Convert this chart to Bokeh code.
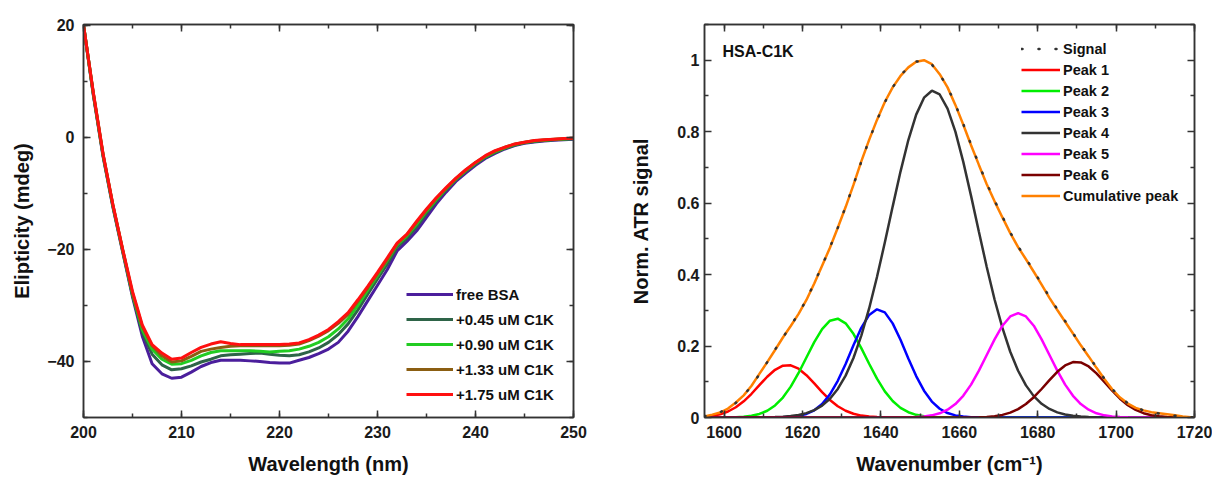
from bokeh.plotting import figure
from bokeh.models import (LinearAxis, SingleIntervalTicker, FixedTicker, Legend, LegendItem,
                          Label, Range1d, CustomLabelingPolicy)
from bokeh.layouts import row
from bokeh.embed import file_html
from bokeh.resources import INLINE

FONT = "Liberation Sans"

# ---------------- CD spectra (left panel) ----------------
wavelength = list(range(200, 251))
cd_labels = ["free BSA", "+0.45 uM C1K", "+0.90 uM C1K", "+1.33 uM C1K", "+1.75 uM C1K"]
cd_colors = ["#4B1E9C", "#2E6448", "#22CC22", "#8B5E12", "#FF1010"]

free_bsa = [20.0, 7.5, -3.5, -12.5, -20.5, -28.5, -35.5, -40.4, -42.2, -43.0,
            -42.8, -41.9, -40.9, -40.2, -39.8, -39.8, -39.8, -39.9, -40.0, -40.2,
            -40.3, -40.3, -39.8, -39.3, -38.6, -37.8, -36.6, -34.6, -32.0, -29.2,
            -26.4, -23.6, -20.3, -18.6, -16.7, -14.3, -11.9, -9.8, -7.9, -6.4,
            -5.0, -3.8, -2.9, -2.1, -1.5, -1.1, -0.85, -0.7, -0.55, -0.45, -0.35]
c1k_045 = [20.0, 7.7, -3.3, -12.3, -20.3, -28.2, -34.8, -38.7, -40.6, -41.5,
           -41.3, -40.8, -40.1, -39.6, -39.0, -38.8, -38.7, -38.6, -38.5, -38.7,
           -38.9, -39.0, -38.8, -38.3, -37.6, -36.6, -35.2, -33.3, -30.8, -28.0,
           -25.3, -22.6, -19.6, -18.0, -16.0, -13.6, -11.4, -9.4, -7.6, -6.1,
           -4.8, -3.6, -2.7, -2.0, -1.4, -1.0, -0.75, -0.6, -0.45, -0.38, -0.3]
c1k_090 = [20.0, 7.8, -3.2, -12.2, -20.2, -28.0, -34.3, -37.8, -39.6, -40.5,
           -40.4, -39.8, -39.0, -38.4, -38.1, -38.1, -38.1, -38.1, -38.2, -38.3,
           -38.2, -38.1, -37.8, -37.3, -36.6, -35.6, -34.2, -32.4, -30.0, -27.3,
           -24.7, -22.0, -19.2, -17.6, -15.5, -13.2, -11.1, -9.2, -7.5, -6.0,
           -4.6, -3.5, -2.6, -1.9, -1.3, -0.95, -0.7, -0.55, -0.42, -0.33, -0.25]
c1k_133 = [20.0, 7.9, -3.1, -12.1, -20.1, -27.8, -33.8, -37.2, -39.0, -40.1,
           -39.9, -39.1, -38.2, -37.8, -37.5, -37.3, -37.2, -37.2, -37.2, -37.2,
           -37.2, -37.1, -36.9, -36.3, -35.5, -34.5, -33.2, -31.6, -29.3, -26.9,
           -24.4, -21.8, -19.0, -17.4, -15.2, -13.0, -10.9, -9.1, -7.4, -5.9,
           -4.5, -3.4, -2.5, -1.8, -1.25, -0.9, -0.65, -0.5, -0.38, -0.28, -0.2]
c1k_175 = [20.0, 8.0, -3.0, -12.0, -20.0, -27.5, -33.5, -37.0, -38.5, -39.6,
           -39.4, -38.4, -37.5, -36.9, -36.5, -36.8, -37.0, -37.0, -37.0, -37.0,
           -37.0, -36.9, -36.7, -36.1, -35.3, -34.3, -32.9, -31.3, -29.0, -26.6,
           -24.1, -21.5, -18.9, -17.3, -15.0, -12.8, -10.8, -9.0, -7.3, -5.8,
           -4.5, -3.3, -2.4, -1.8, -1.2, -0.9, -0.6, -0.45, -0.35, -0.25, -0.18]
cd_series = [free_bsa, c1k_045, c1k_090, c1k_133, c1k_175]

# ---------------- ATR peak fit (right panel) ----------------
wavenumber = list(range(1595, 1722, 2))
signal = [0.004, 0.008, 0.015, 0.025, 0.041, 0.062, 0.088, 0.121, 0.155, 0.190,
          0.224, 0.257, 0.291, 0.330, 0.376, 0.425, 0.476, 0.531, 0.590, 0.651,
          0.716, 0.777, 0.832, 0.882, 0.924, 0.957, 0.981, 0.996, 0.999, 0.988,
          0.960, 0.925, 0.876, 0.822, 0.764, 0.709, 0.655, 0.607, 0.562, 0.518,
          0.479, 0.445, 0.410, 0.374, 0.337, 0.303, 0.270, 0.236, 0.203, 0.172,
          0.140, 0.109, 0.080, 0.057, 0.040, 0.028, 0.020, 0.015, 0.011, 0.008,
          0.005, 0.003, 0.001, 0.000]
peak1 = [0.0022, 0.0046, 0.0092, 0.0168, 0.0287, 0.0453, 0.0664, 0.0904, 0.1141, 0.1335,
         0.1450, 0.1461, 0.1366, 0.1184, 0.0953, 0.0711, 0.0492, 0.0316, 0.0188, 0.0104,
         0.0053, 0.0025, 0.0011, 0.0005, 0.0002, 0.0001] + [0.0] * 38
peak2 = [0.0, 0.0, 0.0001, 0.0004, 0.0010, 0.0022, 0.0049, 0.0100, 0.0189, 0.0337,
         0.0559, 0.0864, 0.1247, 0.1680, 0.2111, 0.2476, 0.2709, 0.2766, 0.2635, 0.2343,
         0.1943, 0.1504, 0.1086, 0.0732, 0.0460, 0.0270, 0.0148, 0.0075, 0.0036, 0.0016,
         0.0007, 0.0003, 0.0001] + [0.0] * 31
peak3 = [0.0] * 8 + [0.0001, 0.0003, 0.0007, 0.0019, 0.0045, 0.0099, 0.0201, 0.0376, 0.0647,
                     0.1026, 0.1500, 0.2021, 0.2509, 0.2871, 0.3027, 0.2942, 0.2635, 0.2175,
                     0.1654, 0.1160, 0.0750, 0.0446, 0.0245, 0.0124, 0.0058, 0.0025, 0.0010,
                     0.0004, 0.0001] + [0.0] * 27
peak4 = [0.0] * 6 + [0.0001, 0.0003, 0.0006, 0.0011, 0.0021, 0.0040, 0.0071, 0.0123, 0.0206,
                     0.0334, 0.0525, 0.0798, 0.1172, 0.1666, 0.2293, 0.3052, 0.3931, 0.4897,
                     0.5903, 0.6883, 0.7766, 0.8477, 0.8952, 0.9146, 0.9041, 0.8647, 0.8000,
                     0.7162, 0.6203, 0.5197, 0.4213, 0.3304, 0.2507, 0.1840, 0.1308, 0.0899,
                     0.0598, 0.0384, 0.0239, 0.0144, 0.0084, 0.0047, 0.0026, 0.0014, 0.0007,
                     0.0003, 0.0002, 0.0001] + [0.0] * 10
peak5 = [0.0] * 24 + [0.0001, 0.0002, 0.0005, 0.0013, 0.0029, 0.0060, 0.0118, 0.0218, 0.0376,
                      0.0607, 0.0921, 0.1311, 0.1749, 0.2188, 0.2569, 0.2828, 0.2920, 0.2828,
                      0.2569, 0.2188, 0.1749, 0.1311, 0.0921, 0.0607, 0.0376, 0.0218, 0.0118,
                      0.0060, 0.0029, 0.0013, 0.0005, 0.0002, 0.0001] + [0.0] * 7
peak6 = [0.0] * 33 + [0.0001, 0.0003, 0.0008, 0.0017, 0.0037, 0.0073, 0.0136, 0.0234, 0.0378,
                      0.0568, 0.0798, 0.1045, 0.1278, 0.1458, 0.1551, 0.1541, 0.1428, 0.1234,
                      0.0996, 0.0750, 0.0527, 0.0345, 0.0211, 0.0120, 0.0064, 0.0032, 0.0015,
                      0.0006, 0.0003, 0.0001, 0.0]
cumulative = [0.003, 0.008, 0.014, 0.025, 0.042, 0.062, 0.089, 0.122, 0.155, 0.189,
              0.224, 0.256, 0.290, 0.329, 0.375, 0.425, 0.475, 0.531, 0.589, 0.651,
              0.717, 0.777, 0.833, 0.883, 0.924, 0.956, 0.980, 0.996, 1.000, 0.989,
              0.961, 0.924, 0.875, 0.820, 0.762, 0.707, 0.653, 0.605, 0.560, 0.516,
              0.477, 0.443, 0.408, 0.372, 0.335, 0.301, 0.268, 0.235, 0.202, 0.171,
              0.139, 0.108, 0.079, 0.056, 0.039, 0.027, 0.020, 0.015, 0.012, 0.009,
              0.006, 0.003, 0.001, 0.000]
peak_series = [peak1, peak2, peak3, peak4, peak5, peak6]
peak_labels = ["Peak 1", "Peak 2", "Peak 3", "Peak 4", "Peak 5", "Peak 6"]
peak_colors = ["#FF0000", "#00EE00", "#0000FF", "#333333", "#FF00FF", "#7A0000"]
AXIS_COLOR = "#333333"

NO_LABELS = "for (const i of indices) { indices.unset(i) }\nreturn indices"


def style_axis(ax, ticker, labels=True, label_standoff=8, fs="16px"):
    ax.ticker = ticker
    ax.axis_line_color = AXIS_COLOR
    ax.axis_line_width = 1.5
    ax.major_tick_line_color = AXIS_COLOR
    ax.minor_tick_line_color = AXIS_COLOR
    ax.major_tick_line_width = 1.5
    ax.minor_tick_line_width = 1.5
    ax.major_tick_in = 7
    ax.major_tick_out = 0
    ax.minor_tick_in = 4
    ax.minor_tick_out = 0
    ax.major_label_text_font = FONT
    ax.major_label_text_font_style = "bold"
    ax.major_label_text_color = "#1a1a1a"
    ax.axis_label_text_font = FONT
    ax.axis_label_text_font_style = "bold"
    ax.axis_label_text_font_size = "20px"
    ax.axis_label_text_color = "#111111"
    if labels:
        ax.major_label_text_font_size = fs
        ax.major_label_standoff = label_standoff
    else:
        ax.major_label_text_font_size = "2px"
        ax.major_label_standoff = 0
        ax.major_label_policy = CustomLabelingPolicy(code=NO_LABELS)


def base_fig(xr, yr, left, right):
    p = figure(width=606, height=477, x_range=xr, y_range=yr,
               output_backend="svg", toolbar_location=None,
               min_border_left=left, min_border_right=right,
               min_border_top=24, min_border_bottom=59)
    p.xgrid.visible = False
    p.ygrid.visible = False
    p.outline_line_color = AXIS_COLOR
    p.outline_line_width = 1.5
    p.background_fill_color = "white"
    p.border_fill_color = "white"
    return p


# ---------------- left figure ----------------
p1 = base_fig(Range1d(200, 250), Range1d(-50, 20.1), 83, 33)
xt1 = SingleIntervalTicker(interval=10, num_minor_ticks=2)
yt1 = SingleIntervalTicker(interval=20, num_minor_ticks=2)
style_axis(p1.xaxis[0], xt1, label_standoff=8)
style_axis(p1.yaxis[0], yt1, label_standoff=9)
p1.xaxis[0].axis_label = "Wavelength (nm)"
p1.xaxis[0].axis_label_standoff = 12
p1.yaxis[0].axis_label = "Elipticity (mdeg)"
p1.yaxis[0].axis_label_standoff = 11
top1 = LinearAxis()
style_axis(top1, SingleIntervalTicker(interval=10, num_minor_ticks=2), labels=False)
p1.add_layout(top1, "above")
right1 = LinearAxis()
style_axis(right1, SingleIntervalTicker(interval=20, num_minor_ticks=2), labels=False)
p1.add_layout(right1, "right")

items1 = []
for ys, lab, col in zip(cd_series, cd_labels, cd_colors):
    r = p1.line(wavelength, ys, line_color=col, line_width=3)
    items1.append(LegendItem(label=lab, renderers=[r]))
leg1 = Legend(items=items1, location=(323, 13), glyph_width=47, glyph_height=20,
              label_height=20, spacing=5, padding=0, margin=0, label_standoff=3,
              border_line_color=None, background_fill_alpha=0,
              label_text_font=FONT, label_text_font_style="bold",
              label_text_font_size="15px", label_text_color="#111111")
p1.add_layout(leg1)

# ---------------- right figure ----------------
p2 = base_fig(Range1d(1595, 1720), Range1d(0, 1.1), 98, 18)
xt2 = SingleIntervalTicker(interval=20, num_minor_ticks=2)
yt2 = FixedTicker(ticks=[0, 0.2, 0.4, 0.6, 0.8, 1.0],
                  minor_ticks=[0.1, 0.3, 0.5, 0.7, 0.9, 1.1])
style_axis(p2.xaxis[0], xt2, label_standoff=8)
style_axis(p2.yaxis[0], yt2, label_standoff=5)
p2.yaxis[0].major_label_overrides = {0: "0", 1: "1"}
p2.xaxis[0].axis_label = "Wavenumber (cm\u207b\u00b9)"
p2.xaxis[0].axis_label_standoff = 12
p2.yaxis[0].axis_label = "Norm. ATR signal"
p2.yaxis[0].axis_label_standoff = 22
top2 = LinearAxis()
style_axis(top2, SingleIntervalTicker(interval=20, num_minor_ticks=2), labels=False)
p2.add_layout(top2, "above")
right2 = LinearAxis()
style_axis(right2, FixedTicker(ticks=[0, 0.2, 0.4, 0.6, 0.8, 1.0],
                               minor_ticks=[0.1, 0.3, 0.5, 0.7, 0.9, 1.1]), labels=False)
p2.add_layout(right2, "right")

peak_renderers = []
for ys, col in zip(peak_series, peak_colors):
    peak_renderers.append(p2.line(wavenumber, ys, line_color=col, line_width=2.5))
r_cum = p2.line(wavenumber, cumulative, line_color="#FF8000", line_width=2.5)
r_sig = p2.line(wavenumber, signal, line_color="#333333", line_width=2.5,
                line_dash="1 16", line_cap="round")

items2 = [LegendItem(label="Signal", renderers=[r_sig])]
for r, lab in zip(peak_renderers, peak_labels):
    items2.append(LegendItem(label=lab, renderers=[r]))
items2.append(LegendItem(label="Cumulative peak", renderers=[r_cum]))
leg2 = Legend(items=items2, location=(317, 211), glyph_width=39, glyph_height=21,
              label_height=21, spacing=0, padding=0, margin=0, label_standoff=3,
              border_line_color=None, background_fill_alpha=0,
              label_text_font=FONT, label_text_font_style="bold",
              label_text_font_size="14.5px", label_text_color="#111111")
p2.add_layout(leg2)

p2.add_layout(Label(x=1599.6, y=1.025, text="HSA-C1K", text_font=FONT,
                    text_font_style="bold", text_font_size="16px",
                    text_baseline="middle", text_color="#111111"))

layout = row(p1, p2, spacing=0)
open("out.html", "w").write(file_html(layout, INLINE))
